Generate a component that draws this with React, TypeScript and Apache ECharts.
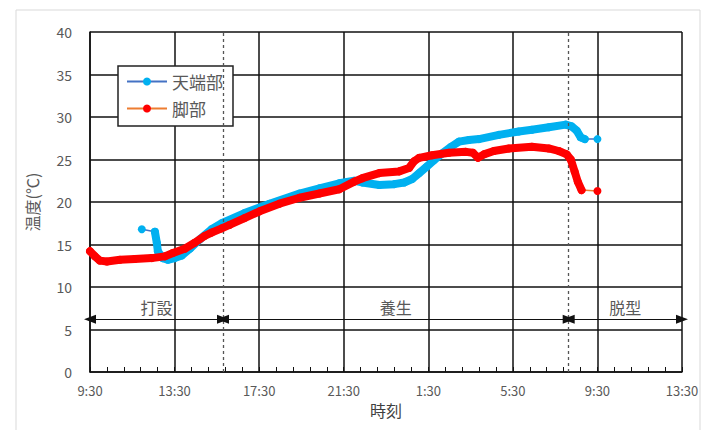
import React, { useEffect, useRef } from "react";
import * as echarts from "echarts";

// hours elapsed since 9:30 (day 1)
const topHours = [2.45, 3.07, 3.16, 3.21, 3.44, 3.68, 4.01, 4.34, 4.72, 5.19, 5.75, 6.23, 7.31, 8.49, 9.91, 10.85, 11.79, 12.5, 12.88, 13.68, 14.39, 14.86, 15.24, 15.57, 15.9, 16.27, 16.65, 17.08, 17.45, 17.92, 18.4, 19.34, 20.28, 20.9, 21.7, 22.5, 22.78, 23.02, 23.21, 23.4, 24.0];
const topTemps = [16.8, 16.5, 15.2, 14.2, 13.4, 13.2, 13.4, 13.7, 14.5, 15.6, 16.8, 17.5, 18.7, 19.8, 21.0, 21.6, 22.2, 22.5, 22.3, 22.0, 22.1, 22.3, 22.7, 23.4, 24.1, 24.9, 25.7, 26.5, 27.1, 27.3, 27.4, 27.9, 28.3, 28.5, 28.8, 29.1, 28.9, 28.4, 27.6, 27.4, 27.4];

const footHours = [0.0, 0.24, 0.47, 0.8, 1.42, 2.12, 2.92, 3.54, 3.92, 4.48, 4.95, 5.42, 5.75, 6.23, 6.6, 7.31, 8.02, 8.96, 9.91, 10.85, 11.79, 12.5, 12.88, 13.68, 14.62, 15.09, 15.33, 15.57, 16.18, 16.98, 17.78, 18.11, 18.35, 18.63, 19.1, 19.81, 20.9, 21.7, 22.17, 22.55, 22.74, 22.92, 23.07, 23.25, 24.0];
const footTemps = [14.2, 13.6, 13.1, 13.0, 13.2, 13.3, 13.4, 13.6, 14.0, 14.5, 15.2, 16.0, 16.4, 16.9, 17.3, 18.1, 18.9, 19.8, 20.5, 21.0, 21.5, 22.4, 22.8, 23.4, 23.6, 24.0, 24.8, 25.2, 25.5, 25.8, 25.9, 25.8, 25.2, 25.6, 26.0, 26.3, 26.5, 26.3, 26.0, 25.6, 25.0, 23.6, 22.4, 21.4, 21.3];

const xTickLabels = ["9:30", "13:30", "17:30", "21:30", "1:30", "5:30", "9:30", "13:30"];
const phaseBounds = [0, 6.29, 22.64, 28];
const phaseNames = ["打設", "養生", "脱型"];

const FONT = "'Noto Sans CJK JP', 'Noto Sans', sans-serif";

export default function App() {
  const ref = useRef<HTMLDivElement>(null);
  useEffect(() => {
    const chart = echarts.init(ref.current!, null, { renderer: "svg" });
    const topData = topHours.map((h, i) => [h, topTemps[i]]);
    const footData = footHours.map((h, i) => [h, footTemps[i]]);
    const arrowY = 6.2;
    const labelY = 7.6;

    chart.setOption({
      animation: false,
      textStyle: { fontFamily: FONT },
      graphic: [
        {
          type: "rect",
          shape: { x: 16, y: 10, width: 684, height: 440 },
          style: { fill: "none", stroke: "#d9d9d9", lineWidth: 1 },
          silent: true,
        },
      ],
      grid: { left: 90, right: 28, top: 32, bottom: 58 },
      legend: {
        orient: "vertical",
        left: 118,
        top: 66,
        padding: [7, 10, 9, 8],
        itemGap: 10,
        itemWidth: 40,
        itemHeight: 10,
        borderColor: "#222",
        borderWidth: 1.5,
        backgroundColor: "#fff",
        textStyle: { fontSize: 17, color: "#595959", fontFamily: FONT },
        data: ["天端部", "脚部"],
      },
      xAxis: {
        type: "value",
        min: 0,
        max: 28,
        interval: 4,
        name: "時刻",
        nameLocation: "middle",
        nameGap: 30,
        nameTextStyle: { fontSize: 16, color: "#404040" },
        axisLine: { show: true, lineStyle: { color: "#111", width: 1.5 } },
        axisTick: { show: true, inside: true, length: 5, lineStyle: { color: "#111" } },
        minorTick: { show: true, splitNumber: 5, length: 5, lineStyle: { color: "#111" } },
        axisLabel: {
          fontSize: 13,
          color: "#595959",
          margin: 12,
          formatter: (v: number) => xTickLabels[Math.round(v / 4)] ?? "",
        },
        splitLine: { show: true, lineStyle: { color: "#111", width: 1.5 } },
      },
      yAxis: {
        type: "value",
        min: 0,
        max: 40,
        interval: 5,
        name: "温度(℃)",
        nameLocation: "middle",
        nameGap: 50,
        nameRotate: 90,
        nameTextStyle: { fontSize: 16, color: "#595959" },
        axisLine: { show: true, lineStyle: { color: "#111", width: 1.5 } },
        axisTick: { show: false },
        axisLabel: { fontSize: 14, color: "#595959", margin: 18 },
        splitLine: { show: true, lineStyle: { color: "#111", width: 1.5 } },
      },
      series: [
        {
          name: "天端部",
          type: "line",
          data: topData,
          symbol: "circle",
          symbolSize: 8,
          showAllSymbol: true,
          itemStyle: { color: "#00B0F0", borderWidth: 0 },
          lineStyle: { color: "#4472C4", width: 1.5 },
          z: 2,
        },
        {
          name: "天端部_thick",
          type: "line",
          data: topData.slice(1, -1),
          showSymbol: false,
          symbol: "none",
          lineStyle: { color: "#00B0F0", width: 8, cap: "round", join: "round" },
          z: 3,
          silent: true,
        },
        {
          name: "脚部",
          type: "line",
          data: footData,
          symbol: "circle",
          symbolSize: 8,
          showAllSymbol: true,
          itemStyle: { color: "#FF0000", borderWidth: 0 },
          lineStyle: { color: "#ED7D31", width: 1.5 },
          z: 4,
        },
        {
          name: "脚部_thick",
          type: "line",
          data: footData.slice(0, -1),
          showSymbol: false,
          symbol: "none",
          lineStyle: { color: "#FF0000", width: 8, cap: "round", join: "round" },
          z: 5,
          silent: true,
        },
        {
          name: "phases",
          type: "line",
          data: [],
          z: 1,
          markLine: {
            silent: true,
            animation: false,
            label: { show: false },
            data: [
              ...phaseBounds.slice(1, 3).map((b) => [
                { coord: [b, 0], symbol: "none", lineStyle: { type: [3, 3], color: "#555", width: 1.3 } },
                { coord: [b, 40], symbol: "none" },
              ]),
              ...phaseNames.map((_, i) => [
                {
                  coord: [phaseBounds[i], arrowY],
                  symbol: "triangle",
                  symbolSize: [9, 12],
                  lineStyle: { type: "solid", color: "#111", width: 1.2 },
                },
                { coord: [phaseBounds[i + 1], arrowY], symbol: "triangle", symbolSize: [9, 12] },
              ]),
            ],
          },
          markPoint: {
            silent: true,
            symbol: "circle",
            symbolSize: 1,
            itemStyle: { color: "rgba(0,0,0,0)" },
            label: {
              show: true,
              position: "inside",
              fontSize: 16,
              color: "#595959",
              fontFamily: FONT,
              formatter: (p: any) => p.name,
            },
            data: phaseNames.map((n, i) => ({
              name: n,
              coord: [(phaseBounds[i] + phaseBounds[i + 1]) / 2, labelY],
            })),
          },
        },
      ],
    });
    return () => chart.dispose();
  }, []);
  return <div ref={ref} style={{ width: 710, height: 430, position: "absolute", left: 0, top: 0 }} />;
}
